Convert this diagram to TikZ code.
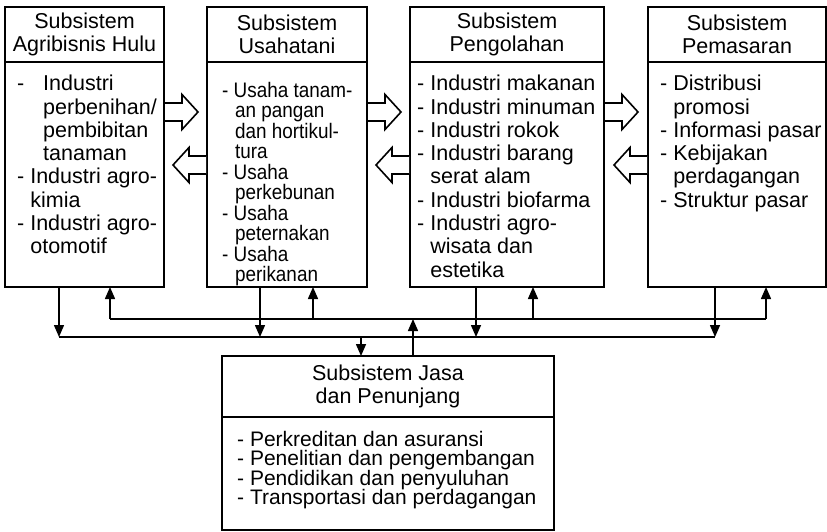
\documentclass[tikz,border=0pt]{standalone}
\usepackage{fontspec}
\setmainfont{Liberation Sans}
\newfontfamily\narrowfont[FakeStretch=0.9]{Liberation Sans}
\usetikzlibrary{arrows.meta, positioning, calc}

\newcommand{\contline}{\hspace*{0.611em}}

\begin{document}
\begin{tikzpicture}[x=1pt, y=-1pt,
    hdr/.style={rectangle, draw, line width=1.8pt, outer sep=0pt, inner sep=0pt, align=center, minimum height=55pt, font={\fontsize{21.5}{23.3}\selectfont}},
    body/.style={rectangle, draw, line width=1.8pt, outer sep=0pt, inner sep=0pt, minimum height=225pt},
    items/.style={anchor=north west, inner sep=0pt, align=left, font={\fontsize{21.5}{23.3}\selectfont}},
    link/.style={line width=1.5pt},
    tip/.style={-{Triangle[length=12pt, width=10pt]}, line width=1.5pt},
    pics/fatarrow/.style={code={
      \draw[line width=1.6pt, fill=white, line join=miter] (1,-9) -- (18,-9) -- (18,-17.5) -- (34,0) -- (18,17.5) -- (18,9) -- (1,9);
    }}
  ]
    \useasboundingbox (0,0) rectangle (827,531);

    % top row
    \node[hdr, minimum width=159pt, anchor=north west] (h1) at (5,7) {Subsistem\\Agribisnis Hulu};
    \node[body, minimum width=159pt, below=0pt of h1] (b1) {};
    \node[hdr, minimum width=160pt, anchor=north west] (h2) at (207,7) {Subsistem\\Usahatani};
    \node[body, minimum width=160pt, below=0pt of h2] (b2) {};
    \node[hdr, minimum width=194pt, anchor=north west] (h3) at (410,7) {Subsistem\\Pengolahan};
    \node[body, minimum width=194pt, below=0pt of h3] (b3) {};
    \node[hdr, minimum width=178pt, anchor=north west] (h4) at (648,7) {Subsistem\\Pemasaran};
    \node[body, minimum width=178pt, below=0pt of h4] (b4) {};

    \node[items] (l1) at ($(b1.north west)+(12,13)$) {\makebox[26pt][l]{-}Industri\\\hspace*{26pt}perbenihan/\\\hspace*{26pt}pembibitan\\\hspace*{26pt}tanaman\\- Industri agro-\\\contline kimia\\- Industri agro-\\\contline otomotif};
    \node[items, font={\narrowfont\fontsize{21}{20.5}\selectfont\lineskiplimit=-20pt}] (l2) at ($(b2.north west)+(15,20)$) {- Usaha tanam-\\\contline an pangan\\\contline dan hortikul-\\\contline tura\\- Usaha\\\contline perkebunan\\- Usaha\\\contline peternakan\\- Usaha\\\contline perikanan};
    \node[items] (l3) at ($(b3.north west)+(7,13)$) {- Industri makanan\\- Industri minuman\\- Industri rokok\\- Industri barang\\\contline serat alam\\- Industri biofarma\\- Industri agro-\\\contline wisata dan\\\contline estetika};
    \node[items] (l4) at ($(b4.north west)+(12,13)$) {- Distribusi\\\contline promosi\\- Informasi pasar\\- Kebijakan\\\contline perdagangan\\- Struktur pasar};

    % bottom box
    \node[hdr, minimum width=332pt, minimum height=61pt, anchor=north west] (h5) at (222,356) {Subsistem Jasa\\dan Penunjang};
    \node[body, minimum width=332pt, minimum height=113pt, below=0pt of h5] (b5) {};
    \node[items, font={\fontsize{21}{19.4}\selectfont\lineskiplimit=-20pt}] (l5) at ($(b5.north west)+(15,14)$) {- Perkreditan dan asuransi\\- Penelitian dan pengembangan\\- Pendidikan dan penyuluhan\\- Transportasi dan perdagangan};

    % flows between subsystems
    \pic at ($(b1.north east)+(0,50)$) {fatarrow};
    \pic at ($(b2.north east)+(0,50)$) {fatarrow};
    \pic at ($(b3.north east)+(0,50)$) {fatarrow};
    \pic[xscale=-1] at ($(b2.north west)+(0,103)$) {fatarrow};
    \pic[xscale=-1] at ($(b3.north west)+(0,103)$) {fatarrow};
    \pic[xscale=-1] at ($(b4.north west)+(0,103)$) {fatarrow};

    % bus lines
    \coordinate (d1) at ($(b1.south west)+(54,50)$);
    \coordinate (d2) at ($(b2.south west)+(53,50)$);
    \coordinate (d3) at ($(b3.south west)+(66,50)$);
    \coordinate (d4) at ($(b4.south west)+(67,50)$);
    \coordinate (u1) at ($(b1.south west)+(105,32)$);
    \coordinate (u2) at ($(b2.south west)+(106,32)$);
    \coordinate (u3) at ($(b3.south west)+(123,32)$);
    \coordinate (u4) at ($(b4.south west)+(118,32)$);
    \coordinate (d5) at ($(h5.north west)+(139,-19)$);
    \coordinate (u5) at ($(h5.north west)+(191,-37)$);

    \draw[link] (d1) -- (d4);
    \draw[link] (u1) -- (u4);
    \foreach \i in {1,2,3,4} {
      \draw[tip] (d\i |- b\i.south) -- (d\i);
      \draw[tip] (u\i) -- (u\i |- b\i.south);
    }
    \draw[tip] (d5) -- (d5 |- h5.north);
    \draw[tip] (u5 |- h5.north) -- (u5);
  \end{tikzpicture}
\end{document}
